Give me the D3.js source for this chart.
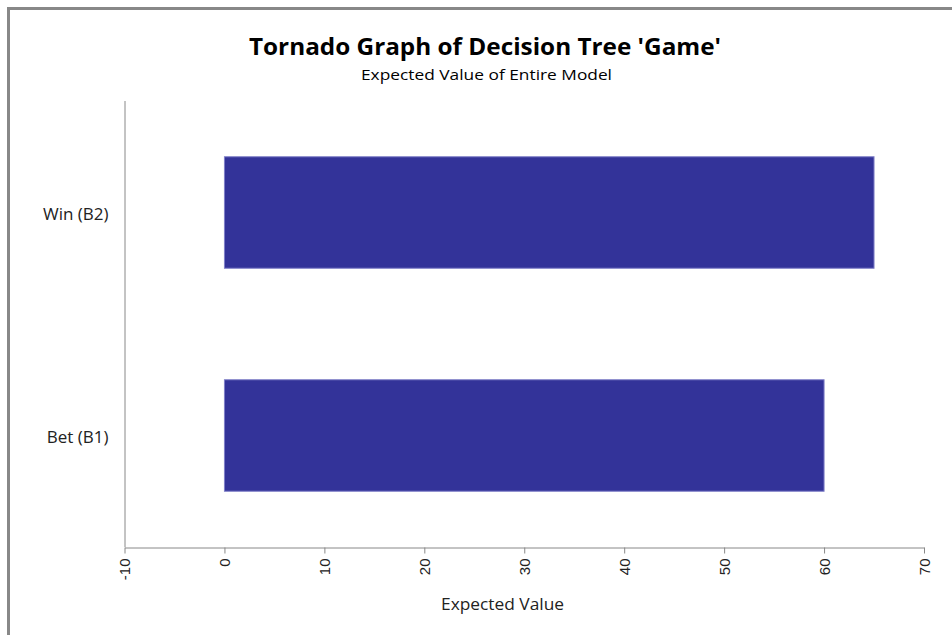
<!DOCTYPE html>
<html>
<head>
<meta charset="utf-8">
<script src="https://cdn.jsdelivr.net/npm/d3@7/dist/d3.min.js"></script>
<style>
  html, body { margin: 0; padding: 0; background: #fff; }
  svg { display: block; }
</style>
</head>
<body>
<svg id="chart" width="952" height="635"></svg>
<script>
// Tornado graph data
const categories = ["Win (B2)", "Bet (B1)"];
const lowValues = [0, 0];
const highValues = [65, 60];
const xTicks = [-10, 0, 10, 20, 30, 40, 50, 60, 70];

const svg = d3.select("#chart");
const W = 952, H = 635;
const margin = { left: 124.5, right: 28, top: 101, bottom: 88 };
const plotRight = W - margin.right;   // 924
const plotBottom = H - margin.bottom; // 547
const uiFont = "'Open Sans', Lato, sans-serif";

// outer frame
svg.append("rect")
  .attr("x", 8.5).attr("y", 8.5)
  .attr("width", 1000).attr("height", 700)
  .attr("fill", "#fff")
  .attr("stroke", "#888").attr("stroke-width", 3);

const x = d3.scaleLinear().domain([-10, 70]).range([margin.left, plotRight]);
const y = d3.scaleBand().domain(categories).range([margin.top, plotBottom]).paddingInner(0.5).paddingOuter(0.25);

// titles
svg.append("text")
  .attr("x", 485).attr("y", 55)
  .attr("text-anchor", "middle")
  .attr("font-family", uiFont)
  .attr("font-weight", "bold").attr("font-size", 24)
  .attr("textLength", 472).attr("lengthAdjust", "spacingAndGlyphs")
  .attr("fill", "#000")
  .text("Tornado Graph of Decision Tree 'Game'");

svg.append("text")
  .attr("x", 486.5).attr("y", 80)
  .attr("text-anchor", "middle")
  .attr("font-family", uiFont)
  .attr("font-size", 15)
  .attr("textLength", 251).attr("lengthAdjust", "spacingAndGlyphs")
  .attr("fill", "#000")
  .text("Expected Value of Entire Model");

// bars
svg.append("g").selectAll("rect")
  .data(categories)
  .join("rect")
  .attr("x", (d, i) => x(lowValues[i]))
  .attr("y", d => y(d))
  .attr("width", (d, i) => x(highValues[i]) - x(lowValues[i]))
  .attr("height", y.bandwidth())
  .attr("fill", "#333399")
  .attr("stroke", "#8080c8").attr("stroke-width", 1);

// y axis
const yAxis = svg.append("g")
  .attr("transform", `translate(${margin.left},0)`)
  .call(d3.axisLeft(y).tickSize(0).tickPadding(16));
yAxis.select(".domain").attr("stroke", "#888").attr("d", `M0.5,${margin.top}V${plotBottom}`);
yAxis.selectAll("text")
  .attr("font-family", uiFont)
  .attr("font-size", 17).attr("fill", "#222")
  .attr("dy", "0.42em");

// x axis
const xAxis = svg.append("g")
  .attr("transform", `translate(0,${plotBottom + 0.5})`)
  .call(d3.axisBottom(x).tickValues(xTicks).tickSize(6).tickSizeOuter(0).tickFormat(d => String(d)));
xAxis.select(".domain").attr("stroke", "#888");
xAxis.selectAll(".tick line").attr("stroke", "#888");
xAxis.selectAll("text")
  .attr("font-family", "'Liberation Sans', Arial, sans-serif")
  .attr("font-size", 15).attr("fill", "#222")
  .attr("text-anchor", "end")
  .attr("transform", "rotate(-90)")
  .attr("x", -11).attr("y", 0).attr("dy", "0.35em");

svg.append("text")
  .attr("x", 502.5).attr("y", 610)
  .attr("text-anchor", "middle")
  .attr("font-family", uiFont)
  .attr("font-size", 16).attr("fill", "#222")
  .attr("textLength", 123).attr("lengthAdjust", "spacingAndGlyphs")
  .text("Expected Value");
</script>
</body>
</html>
